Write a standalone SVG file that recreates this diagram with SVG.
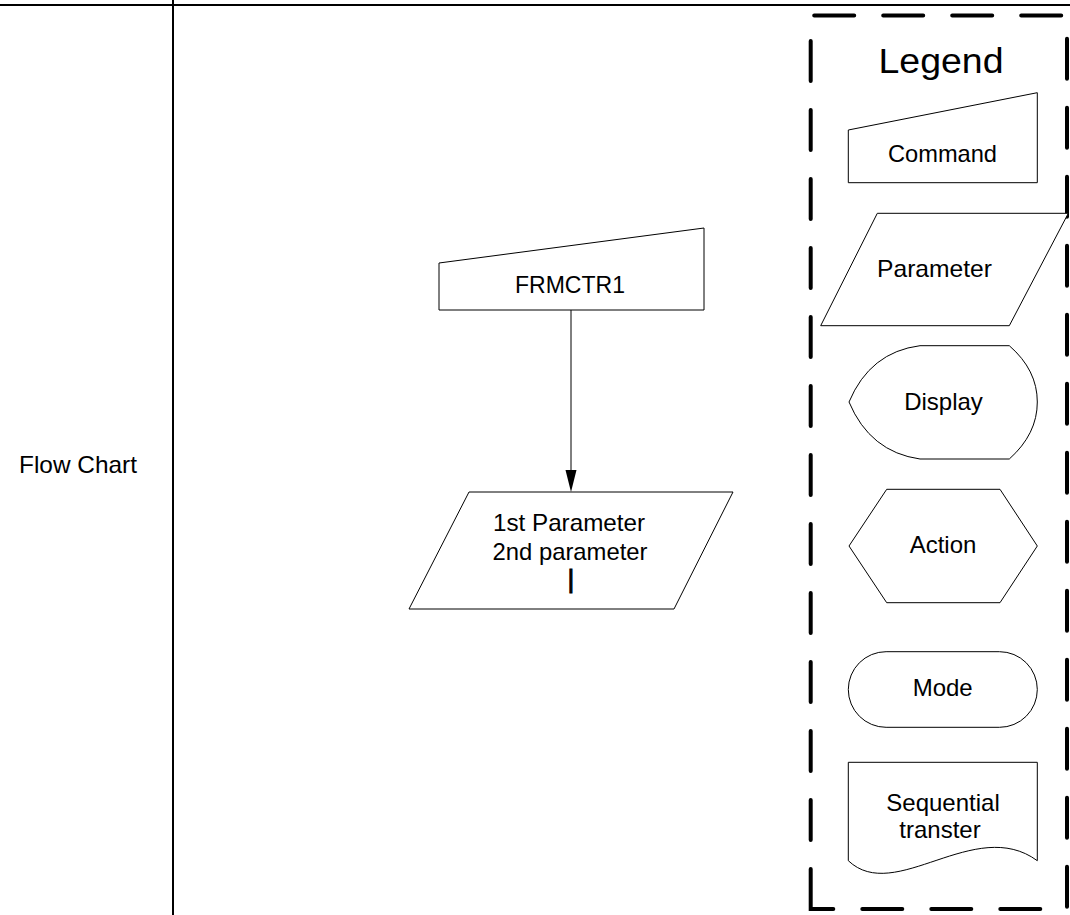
<svg xmlns="http://www.w3.org/2000/svg" width="1070" height="915" viewBox="0 0 1070 915">
<style>
.shape{fill:#fff;stroke:#000;stroke-width:1}
text{font-family:"Liberation Sans",Arial,sans-serif;fill:#000;text-anchor:middle;font-size:24px}
.frame{stroke:#000;stroke-width:2;fill:none}
.legendbox{fill:none;stroke:#000;stroke-width:4;stroke-linecap:round;stroke-dasharray:40 29}
</style>
<rect width="1070" height="915" fill="#fff"/>
<g id="frame">
<line class="frame" x1="0" y1="5" x2="1070" y2="5"/>
<line class="frame" x1="173" y1="0" x2="173" y2="915"/>
<text x="78" y="473" textLength="118" lengthAdjust="spacingAndGlyphs">Flow Chart</text>
</g>
<g id="connectors">
<line x1="571" y1="310" x2="571" y2="471" stroke="#000" stroke-width="1"/>
<polygon points="565.5,470 576.5,470 571,492" fill="#000"/>
</g>
<g id="node-frmctr1">
<polygon class="shape" points="439,263 704,228 704,310 439,310"/>
<text x="570" y="293" style="font-size:23px" textLength="110" lengthAdjust="spacingAndGlyphs">FRMCTR1</text>
</g>
<g id="node-parameters">
<polygon class="shape" points="469,492 733,492 674,609 409,609"/>
<text x="569" y="531" textLength="152" lengthAdjust="spacingAndGlyphs">1st Parameter</text>
<text x="570" y="560" textLength="155" lengthAdjust="spacingAndGlyphs">2nd parameter</text>
<text x="571" y="588" style="font-size:26px;stroke:#000;stroke-width:1">|</text>
</g>
<g id="legend">
<path class="legendbox" d="M810.7,909 L810.7,15.5 L1067,15.5 L1067,909 Z"/>
<text x="941" y="73" style="font-size:35px" textLength="125" lengthAdjust="spacingAndGlyphs">Legend</text>
</g>
<g id="legend-command">
<polygon class="shape" points="848.3,130 1037.3,92.7 1037.3,182.7 848.3,182.7"/>
<text x="942.5" y="162" textLength="109" lengthAdjust="spacingAndGlyphs">Command</text>
</g>
<g id="legend-parameter">
<polygon class="shape" points="877.3,213.3 1068.3,213.3 1009.3,325.7 820.7,325.7"/>
<text x="934.5" y="277" textLength="115" lengthAdjust="spacingAndGlyphs">Parameter</text>
</g>
<g id="legend-display">
<path class="shape" d="M920,345.7 L1009.3,345.7 Q1037.3,370 1037.3,402 Q1037.3,434 1009.3,459 L920,459 Q870,452 849,402 Q870,352 920,345.7 Z"/>
<text x="943.5" y="410">Display</text>
</g>
<g id="legend-action">
<polygon class="shape" points="886.7,489.3 1000,489.3 1037.3,546 1000,602.7 886.7,602.7 849,546"/>
<text x="943" y="553">Action</text>
</g>
<g id="legend-mode">
<rect class="shape" x="848.3" y="651.7" width="189" height="75.6" rx="37.8" ry="37.8"/>
<text x="942.7" y="696">Mode</text>
</g>
<g id="legend-sequential">
<path class="shape" d="M848.3,860.7 L848.3,762.3 L1037.3,762.3 L1037.3,860.7 C975,815 895,905 848.3,860.7 Z"/>
<text x="943" y="811">Sequential</text>
<text x="940" y="838">transter</text>
</g>
</svg>
